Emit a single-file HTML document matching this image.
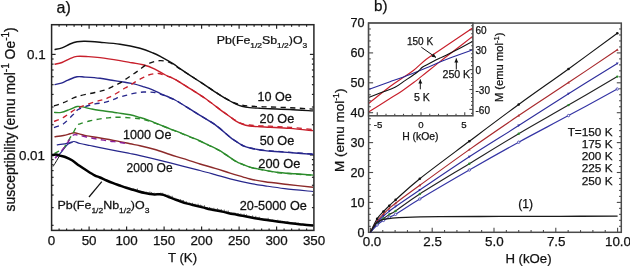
<!DOCTYPE html>
<html><head><meta charset="utf-8"><style>
html,body{margin:0;padding:0;background:#fff;}
svg{display:block;will-change:transform;}
text{font-family:"Liberation Sans", sans-serif;fill:#111;stroke:#111;stroke-width:0.25px;}
</style></head><body>
<svg width="630" height="266" viewBox="0 0 630 266">
<defs>
<clipPath id="clipa"><rect x="51.6" y="24.7" width="262.29999999999995" height="205.70000000000002"/></clipPath>
<clipPath id="clipi"><rect x="368.6" y="23.1" width="104.29999999999995" height="92.69999999999999"/></clipPath>
</defs>
<rect width="630" height="266" fill="#fff"/>
<line x1="59.10" y1="230.40" x2="59.10" y2="228.40" stroke="#262626" stroke-width="1.2"/>
<line x1="59.10" y1="24.70" x2="59.10" y2="26.70" stroke="#262626" stroke-width="1.2"/>
<line x1="66.60" y1="230.40" x2="66.60" y2="228.40" stroke="#262626" stroke-width="1.2"/>
<line x1="66.60" y1="24.70" x2="66.60" y2="26.70" stroke="#262626" stroke-width="1.2"/>
<line x1="74.10" y1="230.40" x2="74.10" y2="228.40" stroke="#262626" stroke-width="1.2"/>
<line x1="74.10" y1="24.70" x2="74.10" y2="26.70" stroke="#262626" stroke-width="1.2"/>
<line x1="81.60" y1="230.40" x2="81.60" y2="228.40" stroke="#262626" stroke-width="1.2"/>
<line x1="81.60" y1="24.70" x2="81.60" y2="26.70" stroke="#262626" stroke-width="1.2"/>
<line x1="89.10" y1="230.40" x2="89.10" y2="226.40" stroke="#262626" stroke-width="1.2"/>
<line x1="89.10" y1="24.70" x2="89.10" y2="28.70" stroke="#262626" stroke-width="1.2"/>
<line x1="96.60" y1="230.40" x2="96.60" y2="228.40" stroke="#262626" stroke-width="1.2"/>
<line x1="96.60" y1="24.70" x2="96.60" y2="26.70" stroke="#262626" stroke-width="1.2"/>
<line x1="104.10" y1="230.40" x2="104.10" y2="228.40" stroke="#262626" stroke-width="1.2"/>
<line x1="104.10" y1="24.70" x2="104.10" y2="26.70" stroke="#262626" stroke-width="1.2"/>
<line x1="111.60" y1="230.40" x2="111.60" y2="228.40" stroke="#262626" stroke-width="1.2"/>
<line x1="111.60" y1="24.70" x2="111.60" y2="26.70" stroke="#262626" stroke-width="1.2"/>
<line x1="119.10" y1="230.40" x2="119.10" y2="228.40" stroke="#262626" stroke-width="1.2"/>
<line x1="119.10" y1="24.70" x2="119.10" y2="26.70" stroke="#262626" stroke-width="1.2"/>
<line x1="126.60" y1="230.40" x2="126.60" y2="226.40" stroke="#262626" stroke-width="1.2"/>
<line x1="126.60" y1="24.70" x2="126.60" y2="28.70" stroke="#262626" stroke-width="1.2"/>
<line x1="134.10" y1="230.40" x2="134.10" y2="228.40" stroke="#262626" stroke-width="1.2"/>
<line x1="134.10" y1="24.70" x2="134.10" y2="26.70" stroke="#262626" stroke-width="1.2"/>
<line x1="141.60" y1="230.40" x2="141.60" y2="228.40" stroke="#262626" stroke-width="1.2"/>
<line x1="141.60" y1="24.70" x2="141.60" y2="26.70" stroke="#262626" stroke-width="1.2"/>
<line x1="149.10" y1="230.40" x2="149.10" y2="228.40" stroke="#262626" stroke-width="1.2"/>
<line x1="149.10" y1="24.70" x2="149.10" y2="26.70" stroke="#262626" stroke-width="1.2"/>
<line x1="156.60" y1="230.40" x2="156.60" y2="228.40" stroke="#262626" stroke-width="1.2"/>
<line x1="156.60" y1="24.70" x2="156.60" y2="26.70" stroke="#262626" stroke-width="1.2"/>
<line x1="164.10" y1="230.40" x2="164.10" y2="226.40" stroke="#262626" stroke-width="1.2"/>
<line x1="164.10" y1="24.70" x2="164.10" y2="28.70" stroke="#262626" stroke-width="1.2"/>
<line x1="171.60" y1="230.40" x2="171.60" y2="228.40" stroke="#262626" stroke-width="1.2"/>
<line x1="171.60" y1="24.70" x2="171.60" y2="26.70" stroke="#262626" stroke-width="1.2"/>
<line x1="179.10" y1="230.40" x2="179.10" y2="228.40" stroke="#262626" stroke-width="1.2"/>
<line x1="179.10" y1="24.70" x2="179.10" y2="26.70" stroke="#262626" stroke-width="1.2"/>
<line x1="186.60" y1="230.40" x2="186.60" y2="228.40" stroke="#262626" stroke-width="1.2"/>
<line x1="186.60" y1="24.70" x2="186.60" y2="26.70" stroke="#262626" stroke-width="1.2"/>
<line x1="194.10" y1="230.40" x2="194.10" y2="228.40" stroke="#262626" stroke-width="1.2"/>
<line x1="194.10" y1="24.70" x2="194.10" y2="26.70" stroke="#262626" stroke-width="1.2"/>
<line x1="201.60" y1="230.40" x2="201.60" y2="226.40" stroke="#262626" stroke-width="1.2"/>
<line x1="201.60" y1="24.70" x2="201.60" y2="28.70" stroke="#262626" stroke-width="1.2"/>
<line x1="209.10" y1="230.40" x2="209.10" y2="228.40" stroke="#262626" stroke-width="1.2"/>
<line x1="209.10" y1="24.70" x2="209.10" y2="26.70" stroke="#262626" stroke-width="1.2"/>
<line x1="216.60" y1="230.40" x2="216.60" y2="228.40" stroke="#262626" stroke-width="1.2"/>
<line x1="216.60" y1="24.70" x2="216.60" y2="26.70" stroke="#262626" stroke-width="1.2"/>
<line x1="224.10" y1="230.40" x2="224.10" y2="228.40" stroke="#262626" stroke-width="1.2"/>
<line x1="224.10" y1="24.70" x2="224.10" y2="26.70" stroke="#262626" stroke-width="1.2"/>
<line x1="231.60" y1="230.40" x2="231.60" y2="228.40" stroke="#262626" stroke-width="1.2"/>
<line x1="231.60" y1="24.70" x2="231.60" y2="26.70" stroke="#262626" stroke-width="1.2"/>
<line x1="239.10" y1="230.40" x2="239.10" y2="226.40" stroke="#262626" stroke-width="1.2"/>
<line x1="239.10" y1="24.70" x2="239.10" y2="28.70" stroke="#262626" stroke-width="1.2"/>
<line x1="246.60" y1="230.40" x2="246.60" y2="228.40" stroke="#262626" stroke-width="1.2"/>
<line x1="246.60" y1="24.70" x2="246.60" y2="26.70" stroke="#262626" stroke-width="1.2"/>
<line x1="254.10" y1="230.40" x2="254.10" y2="228.40" stroke="#262626" stroke-width="1.2"/>
<line x1="254.10" y1="24.70" x2="254.10" y2="26.70" stroke="#262626" stroke-width="1.2"/>
<line x1="261.60" y1="230.40" x2="261.60" y2="228.40" stroke="#262626" stroke-width="1.2"/>
<line x1="261.60" y1="24.70" x2="261.60" y2="26.70" stroke="#262626" stroke-width="1.2"/>
<line x1="269.10" y1="230.40" x2="269.10" y2="228.40" stroke="#262626" stroke-width="1.2"/>
<line x1="269.10" y1="24.70" x2="269.10" y2="26.70" stroke="#262626" stroke-width="1.2"/>
<line x1="276.60" y1="230.40" x2="276.60" y2="226.40" stroke="#262626" stroke-width="1.2"/>
<line x1="276.60" y1="24.70" x2="276.60" y2="28.70" stroke="#262626" stroke-width="1.2"/>
<line x1="284.10" y1="230.40" x2="284.10" y2="228.40" stroke="#262626" stroke-width="1.2"/>
<line x1="284.10" y1="24.70" x2="284.10" y2="26.70" stroke="#262626" stroke-width="1.2"/>
<line x1="291.60" y1="230.40" x2="291.60" y2="228.40" stroke="#262626" stroke-width="1.2"/>
<line x1="291.60" y1="24.70" x2="291.60" y2="26.70" stroke="#262626" stroke-width="1.2"/>
<line x1="299.10" y1="230.40" x2="299.10" y2="228.40" stroke="#262626" stroke-width="1.2"/>
<line x1="299.10" y1="24.70" x2="299.10" y2="26.70" stroke="#262626" stroke-width="1.2"/>
<line x1="306.60" y1="230.40" x2="306.60" y2="228.40" stroke="#262626" stroke-width="1.2"/>
<line x1="306.60" y1="24.70" x2="306.60" y2="26.70" stroke="#262626" stroke-width="1.2"/>
<line x1="51.60" y1="225.32" x2="53.60" y2="225.32" stroke="#262626" stroke-width="1.2"/>
<line x1="313.90" y1="225.32" x2="311.90" y2="225.32" stroke="#262626" stroke-width="1.2"/>
<line x1="51.60" y1="207.60" x2="53.60" y2="207.60" stroke="#262626" stroke-width="1.2"/>
<line x1="313.90" y1="207.60" x2="311.90" y2="207.60" stroke="#262626" stroke-width="1.2"/>
<line x1="51.60" y1="195.03" x2="53.60" y2="195.03" stroke="#262626" stroke-width="1.2"/>
<line x1="313.90" y1="195.03" x2="311.90" y2="195.03" stroke="#262626" stroke-width="1.2"/>
<line x1="51.60" y1="185.28" x2="53.60" y2="185.28" stroke="#262626" stroke-width="1.2"/>
<line x1="313.90" y1="185.28" x2="311.90" y2="185.28" stroke="#262626" stroke-width="1.2"/>
<line x1="51.60" y1="177.32" x2="53.60" y2="177.32" stroke="#262626" stroke-width="1.2"/>
<line x1="313.90" y1="177.32" x2="311.90" y2="177.32" stroke="#262626" stroke-width="1.2"/>
<line x1="51.60" y1="170.58" x2="53.60" y2="170.58" stroke="#262626" stroke-width="1.2"/>
<line x1="313.90" y1="170.58" x2="311.90" y2="170.58" stroke="#262626" stroke-width="1.2"/>
<line x1="51.60" y1="164.75" x2="53.60" y2="164.75" stroke="#262626" stroke-width="1.2"/>
<line x1="313.90" y1="164.75" x2="311.90" y2="164.75" stroke="#262626" stroke-width="1.2"/>
<line x1="51.60" y1="159.60" x2="53.60" y2="159.60" stroke="#262626" stroke-width="1.2"/>
<line x1="313.90" y1="159.60" x2="311.90" y2="159.60" stroke="#262626" stroke-width="1.2"/>
<line x1="51.60" y1="155.00" x2="55.60" y2="155.00" stroke="#262626" stroke-width="1.2"/>
<line x1="313.90" y1="155.00" x2="309.90" y2="155.00" stroke="#262626" stroke-width="1.2"/>
<line x1="51.60" y1="124.72" x2="53.60" y2="124.72" stroke="#262626" stroke-width="1.2"/>
<line x1="313.90" y1="124.72" x2="311.90" y2="124.72" stroke="#262626" stroke-width="1.2"/>
<line x1="51.60" y1="107.00" x2="53.60" y2="107.00" stroke="#262626" stroke-width="1.2"/>
<line x1="313.90" y1="107.00" x2="311.90" y2="107.00" stroke="#262626" stroke-width="1.2"/>
<line x1="51.60" y1="94.43" x2="53.60" y2="94.43" stroke="#262626" stroke-width="1.2"/>
<line x1="313.90" y1="94.43" x2="311.90" y2="94.43" stroke="#262626" stroke-width="1.2"/>
<line x1="51.60" y1="84.68" x2="53.60" y2="84.68" stroke="#262626" stroke-width="1.2"/>
<line x1="313.90" y1="84.68" x2="311.90" y2="84.68" stroke="#262626" stroke-width="1.2"/>
<line x1="51.60" y1="76.72" x2="53.60" y2="76.72" stroke="#262626" stroke-width="1.2"/>
<line x1="313.90" y1="76.72" x2="311.90" y2="76.72" stroke="#262626" stroke-width="1.2"/>
<line x1="51.60" y1="69.98" x2="53.60" y2="69.98" stroke="#262626" stroke-width="1.2"/>
<line x1="313.90" y1="69.98" x2="311.90" y2="69.98" stroke="#262626" stroke-width="1.2"/>
<line x1="51.60" y1="64.15" x2="53.60" y2="64.15" stroke="#262626" stroke-width="1.2"/>
<line x1="313.90" y1="64.15" x2="311.90" y2="64.15" stroke="#262626" stroke-width="1.2"/>
<line x1="51.60" y1="59.00" x2="53.60" y2="59.00" stroke="#262626" stroke-width="1.2"/>
<line x1="313.90" y1="59.00" x2="311.90" y2="59.00" stroke="#262626" stroke-width="1.2"/>
<line x1="51.60" y1="54.40" x2="55.60" y2="54.40" stroke="#262626" stroke-width="1.2"/>
<line x1="313.90" y1="54.40" x2="309.90" y2="54.40" stroke="#262626" stroke-width="1.2"/>
<rect x="51.6" y="24.7" width="262.29999999999995" height="205.70000000000002" fill="none" stroke="#262626" stroke-width="1.5"/>
<text x="51.6" y="245.3" font-size="13.4" text-anchor="middle">0</text>
<text x="89.1" y="245.3" font-size="13.4" text-anchor="middle">50</text>
<text x="126.6" y="245.3" font-size="13.4" text-anchor="middle">100</text>
<text x="164.1" y="245.3" font-size="13.4" text-anchor="middle">150</text>
<text x="201.6" y="245.3" font-size="13.4" text-anchor="middle">200</text>
<text x="239.1" y="245.3" font-size="13.4" text-anchor="middle">250</text>
<text x="276.6" y="245.3" font-size="13.4" text-anchor="middle">300</text>
<text x="314.1" y="245.3" font-size="13.4" text-anchor="middle">350</text>
<text x="45.6" y="59.2" font-size="13.4" text-anchor="end">0.1</text>
<text x="45.0" y="160.0" font-size="13.4" text-anchor="end">0.01</text>
<text x="182.5" y="261.6" font-size="13.2" text-anchor="middle">T (K)</text>
<text transform="translate(14.8,211.4) scale(1.08,1) rotate(-90)" font-size="13.9">susceptibility</text>
<text transform="translate(14.8,130.0) scale(1.08,1) rotate(-90)" font-size="13.9">(emu mol<tspan dy="-5.0" font-size="10">-1</tspan><tspan dy="5.0"> Oe</tspan><tspan dy="-5.0" font-size="10">-1</tspan><tspan dy="5.0">)</tspan></text>
<text x="56.5" y="12.6" font-size="16" text-anchor="start">a)</text>
<g clip-path="url(#clipa)">
<path d="M54.50,49.60 C55.75,49.30 59.42,48.73 62.00,47.80 C64.58,46.87 67.50,45.00 70.00,44.00 C72.50,43.00 74.50,42.25 77.00,41.80 C79.50,41.35 81.17,41.22 85.00,41.30 C88.83,41.38 94.17,41.82 100.00,42.30 C105.83,42.78 113.33,43.20 120.00,44.20 C126.67,45.20 134.48,46.83 140.00,48.30 C145.52,49.77 149.43,51.48 153.10,53.00 C156.77,54.52 158.68,55.62 162.00,57.40 C165.32,59.18 170.00,61.83 173.00,63.70 C176.00,65.57 177.17,66.67 180.00,68.60 C182.83,70.53 185.83,72.55 190.00,75.30 C194.17,78.05 200.00,81.80 205.00,85.10 C210.00,88.40 215.83,92.45 220.00,95.10 C224.17,97.75 227.33,99.52 230.00,101.00 C232.67,102.48 234.00,103.12 236.00,104.00 C238.00,104.88 239.75,105.70 242.00,106.30 C244.25,106.90 246.50,107.27 249.50,107.60 C252.50,107.93 256.58,108.10 260.00,108.30 C263.42,108.50 265.00,108.60 270.00,108.80 C275.00,109.00 282.83,109.15 290.00,109.50 C297.17,109.85 309.17,110.67 313.00,110.90" fill="none" stroke="#111111" stroke-width="1.4" stroke-linejoin="round"/>
<path d="M54.50,64.30 C55.75,64.00 59.42,63.45 62.00,62.50 C64.58,61.55 67.50,59.62 70.00,58.60 C72.50,57.58 74.00,56.73 77.00,56.40 C80.00,56.07 84.17,56.40 88.00,56.60 C91.83,56.80 94.67,56.93 100.00,57.60 C105.33,58.27 114.67,59.73 120.00,60.60 C125.33,61.47 128.17,62.10 132.00,62.80 C135.83,63.50 139.28,63.80 143.00,64.80 C146.72,65.80 150.55,67.10 154.30,68.80 C158.05,70.50 162.38,73.40 165.50,75.00 C168.62,76.60 170.58,77.18 173.00,78.40 C175.42,79.62 177.17,80.58 180.00,82.30 C182.83,84.02 185.83,86.03 190.00,88.70 C194.17,91.37 200.00,94.82 205.00,98.30 C210.00,101.78 215.83,106.52 220.00,109.60 C224.17,112.68 227.33,114.88 230.00,116.80 C232.67,118.72 234.00,119.88 236.00,121.10 C238.00,122.32 239.75,123.28 242.00,124.10 C244.25,124.92 246.50,125.55 249.50,126.00 C252.50,126.45 256.58,126.58 260.00,126.80 C263.42,127.02 265.00,127.03 270.00,127.30 C275.00,127.57 282.83,127.85 290.00,128.40 C297.17,128.95 309.17,130.23 313.00,130.60" fill="none" stroke="#c8202c" stroke-width="1.4" stroke-linejoin="round"/>
<path d="M54.50,84.60 C55.63,84.35 59.05,83.85 61.30,83.10 C63.55,82.35 65.38,81.15 68.00,80.10 C70.62,79.05 74.17,77.30 77.00,76.80 C79.83,76.30 81.17,76.85 85.00,77.10 C88.83,77.35 95.50,77.77 100.00,78.30 C104.50,78.83 107.83,79.63 112.00,80.30 C116.17,80.97 121.33,81.70 125.00,82.30 C128.67,82.90 131.00,83.18 134.00,83.90 C137.00,84.62 139.98,85.63 143.00,86.60 C146.02,87.57 149.27,88.58 152.10,89.70 C154.93,90.82 157.43,92.17 160.00,93.30 C162.57,94.43 165.00,95.38 167.50,96.50 C170.00,97.62 172.48,98.67 175.00,100.00 C177.52,101.33 180.10,102.98 182.60,104.50 C185.10,106.02 187.10,107.28 190.00,109.10 C192.90,110.92 195.83,112.82 200.00,115.40 C204.17,117.98 210.00,120.98 215.00,124.60 C220.00,128.22 226.67,134.42 230.00,137.10 C233.33,139.78 233.33,139.55 235.00,140.70 C236.67,141.85 238.50,143.10 240.00,144.00 C241.50,144.90 242.33,145.43 244.00,146.10 C245.67,146.77 247.73,147.43 250.00,148.00 C252.27,148.57 255.10,149.07 257.60,149.50 C260.10,149.93 262.10,150.27 265.00,150.60 C267.90,150.93 270.00,151.10 275.00,151.50 C280.00,151.90 288.58,152.52 295.00,153.00 C301.42,153.48 310.42,154.17 313.50,154.40" fill="none" stroke="#27278c" stroke-width="1.4" stroke-linejoin="round"/>
<path d="M54.00,112.40 C55.22,112.40 58.63,112.92 61.30,112.40 C63.97,111.88 67.37,110.28 70.00,109.30 C72.63,108.32 75.05,106.90 77.10,106.50 C79.15,106.10 80.15,106.55 82.30,106.90 C84.45,107.25 87.25,108.03 90.00,108.60 C92.75,109.17 94.20,109.58 98.80,110.30 C103.40,111.02 112.40,112.15 117.60,112.90 C122.80,113.65 126.27,114.03 130.00,114.80 C133.73,115.57 137.08,116.67 140.00,117.50 C142.92,118.33 145.00,118.92 147.50,119.80 C150.00,120.68 152.48,121.80 155.00,122.80 C157.52,123.80 160.10,124.80 162.60,125.80 C165.10,126.80 167.10,127.67 170.00,128.80 C172.90,129.93 176.67,131.27 180.00,132.60 C183.33,133.93 186.67,135.40 190.00,136.80 C193.33,138.20 196.83,139.58 200.00,141.00 C203.17,142.42 206.00,143.87 209.00,145.30 C212.00,146.73 215.23,148.08 218.00,149.60 C220.77,151.12 223.43,152.97 225.60,154.40 C227.77,155.83 228.98,156.87 231.00,158.20 C233.02,159.53 236.03,161.50 237.70,162.40 C239.37,163.30 239.45,162.98 241.00,163.60 C242.55,164.22 244.75,165.32 247.00,166.10 C249.25,166.88 252.23,167.75 254.50,168.30 C256.77,168.85 256.95,168.75 260.60,169.40 C264.25,170.05 270.67,171.47 276.40,172.20 C282.13,172.93 288.82,173.32 295.00,173.80 C301.18,174.28 310.42,174.88 313.50,175.10" fill="none" stroke="#2c8c2c" stroke-width="1.4" stroke-linejoin="round"/>
<path d="M54.50,136.70 C56.00,136.50 60.92,135.98 63.50,135.50 C66.08,135.02 68.23,134.25 70.00,133.80 C71.77,133.35 72.43,132.75 74.10,132.80 C75.77,132.85 77.85,133.58 80.00,134.10 C82.15,134.62 83.87,135.30 87.00,135.90 C90.13,136.50 93.70,136.83 98.80,137.70 C103.90,138.57 112.40,140.08 117.60,141.10 C122.80,142.12 126.27,143.03 130.00,143.80 C133.73,144.57 135.83,144.75 140.00,145.70 C144.17,146.65 150.00,148.03 155.00,149.50 C160.00,150.97 165.40,153.02 170.00,154.50 C174.60,155.98 177.60,156.82 182.60,158.40 C187.60,159.98 194.58,162.35 200.00,164.00 C205.42,165.65 210.08,166.78 215.10,168.30 C220.12,169.82 225.52,171.68 230.10,173.10 C234.68,174.52 239.28,175.82 242.60,176.80 C245.92,177.78 246.27,178.17 250.00,179.00 C253.73,179.83 258.72,180.88 265.00,181.80 C271.28,182.72 279.70,183.58 287.70,184.50 C295.70,185.42 308.78,186.83 313.00,187.30" fill="none" stroke="#8c2a2a" stroke-width="1.4" stroke-linejoin="round"/>
<path d="M56.80,144.80 C58.17,144.63 62.80,144.17 65.00,143.80 C67.20,143.43 68.50,142.98 70.00,142.60 C71.50,142.22 72.33,141.35 74.00,141.50 C75.67,141.65 77.33,142.83 80.00,143.50 C82.67,144.17 86.87,144.87 90.00,145.50 C93.13,146.13 94.20,146.37 98.80,147.30 C103.40,148.23 112.40,150.07 117.60,151.10 C122.80,152.13 126.27,152.75 130.00,153.50 C133.73,154.25 135.00,154.47 140.00,155.60 C145.00,156.73 152.90,158.55 160.00,160.30 C167.10,162.05 175.93,164.40 182.60,166.10 C189.27,167.80 194.58,169.08 200.00,170.50 C205.42,171.92 210.08,173.22 215.10,174.60 C220.12,175.98 224.28,177.35 230.10,178.80 C235.92,180.25 244.18,182.13 250.00,183.30 C255.82,184.47 259.22,184.92 265.00,185.80 C270.78,186.68 276.70,187.65 284.70,188.60 C292.70,189.55 308.28,191.02 313.00,191.50" fill="none" stroke="#27278c" stroke-width="1.2" stroke-linejoin="round"/>
<path d="M55.10,157.70 C55.58,157.33 56.85,156.57 58.00,155.50 C59.15,154.43 60.58,152.97 62.00,151.30 C63.42,149.63 65.28,146.82 66.50,145.50 C67.72,144.18 68.28,143.93 69.30,143.40 C70.32,142.87 72.05,142.48 72.60,142.30" fill="none" stroke="#27278c" stroke-width="1.2" stroke-linejoin="round"/>
<path d="M54.00,106.00 C55.58,105.45 59.67,104.27 63.50,102.70 C67.33,101.13 71.75,98.30 77.00,96.60 C82.25,94.90 90.38,93.58 95.00,92.50 C99.62,91.42 102.30,90.82 104.70,90.10 C107.10,89.38 107.75,88.97 109.40,88.20 C111.05,87.43 112.88,86.33 114.60,85.50 C116.32,84.67 118.02,84.13 119.70,83.20 C121.38,82.27 123.08,80.98 124.70,79.90 C126.32,78.82 127.75,77.82 129.40,76.70 C131.05,75.58 132.88,74.38 134.60,73.20 C136.32,72.02 137.83,71.00 139.70,69.60 C141.57,68.20 144.22,65.83 145.80,64.80 C147.38,63.77 147.78,63.95 149.20,63.40 C150.62,62.85 152.52,61.95 154.30,61.50 C156.08,61.05 158.12,60.77 159.90,60.70 C161.68,60.63 163.32,60.78 165.00,61.10 C166.68,61.42 168.33,61.85 170.00,62.60 C171.67,63.35 173.33,64.55 175.00,65.60 C176.67,66.65 177.50,67.28 180.00,68.90 C182.50,70.52 185.83,72.60 190.00,75.30 C194.17,78.00 200.00,81.82 205.00,85.10 C210.00,88.38 215.83,92.38 220.00,95.00 C224.17,97.62 227.33,99.38 230.00,100.80 C232.67,102.22 234.00,102.78 236.00,103.50 C238.00,104.22 239.75,104.67 242.00,105.10 C244.25,105.53 246.50,105.83 249.50,106.10 C252.50,106.37 256.58,106.55 260.00,106.70 C263.42,106.85 265.00,106.83 270.00,107.00 C275.00,107.17 282.83,107.35 290.00,107.70 C297.17,108.05 309.17,108.87 313.00,109.10" fill="none" stroke="#111111" stroke-width="1.35" stroke-dasharray="5.2,4.4" stroke-linejoin="round"/>
<path d="M54.00,121.40 C55.58,120.73 59.65,119.57 63.50,117.40 C67.35,115.23 71.83,111.00 77.10,108.40 C82.37,105.80 90.58,103.30 95.10,101.80 C99.62,100.30 101.82,100.18 104.20,99.40 C106.58,98.62 107.75,97.88 109.40,97.10 C111.05,96.32 112.38,95.65 114.10,94.70 C115.82,93.75 117.88,92.52 119.70,91.40 C121.52,90.28 123.37,88.95 125.00,88.00 C126.63,87.05 127.98,86.60 129.50,85.70 C131.02,84.80 132.40,83.67 134.10,82.60 C135.80,81.53 138.03,80.20 139.70,79.30 C141.37,78.40 142.62,77.92 144.10,77.20 C145.58,76.48 147.00,75.55 148.60,75.00 C150.20,74.45 152.00,74.15 153.70,73.90 C155.40,73.65 157.02,73.27 158.80,73.50 C160.58,73.73 162.53,74.70 164.40,75.30 C166.27,75.90 168.23,76.40 170.00,77.10 C171.77,77.80 173.33,78.63 175.00,79.50 C176.67,80.37 177.50,80.78 180.00,82.30 C182.50,83.82 185.83,85.93 190.00,88.60 C194.17,91.27 200.00,94.83 205.00,98.30 C210.00,101.77 215.83,106.35 220.00,109.40 C224.17,112.45 227.33,114.72 230.00,116.60 C232.67,118.48 234.00,119.53 236.00,120.70 C238.00,121.87 239.75,122.88 242.00,123.60 C244.25,124.32 246.50,124.63 249.50,125.00 C252.50,125.37 256.58,125.60 260.00,125.80 C263.42,126.00 265.00,125.95 270.00,126.20 C275.00,126.45 282.83,126.75 290.00,127.30 C297.17,127.85 309.17,129.13 313.00,129.50" fill="none" stroke="#c8202c" stroke-width="1.35" stroke-dasharray="5.2,4.4" stroke-linejoin="round"/>
<path d="M54.00,127.60 C55.58,126.95 60.40,125.78 63.50,123.70 C66.60,121.62 70.15,117.47 72.60,115.10 C75.05,112.73 75.80,111.02 78.20,109.50 C80.60,107.98 84.18,106.93 87.00,106.00 C89.82,105.07 92.15,104.50 95.10,103.90 C98.05,103.30 101.68,103.12 104.70,102.40 C107.72,101.68 110.93,100.40 113.20,99.60 C115.47,98.80 116.33,98.27 118.30,97.60 C120.27,96.93 123.28,96.08 125.00,95.60 C126.72,95.12 127.17,95.07 128.60,94.70 C130.03,94.33 131.95,93.77 133.60,93.40 C135.25,93.03 136.85,92.73 138.50,92.50 C140.15,92.27 141.83,92.08 143.50,92.00 C145.17,91.92 146.83,91.95 148.50,92.00 C150.17,92.05 151.85,92.08 153.50,92.30 C155.15,92.52 156.48,92.72 158.40,93.30 C160.32,93.88 162.23,94.68 165.00,95.80 C167.77,96.92 172.07,98.55 175.00,100.00 C177.93,101.45 180.10,102.98 182.60,104.50 C185.10,106.02 187.10,107.28 190.00,109.10 C192.90,110.92 195.83,112.82 200.00,115.40 C204.17,117.98 210.00,120.98 215.00,124.60 C220.00,128.22 226.67,134.42 230.00,137.10 C233.33,139.78 233.33,139.55 235.00,140.70 C236.67,141.85 238.50,143.10 240.00,144.00 C241.50,144.90 242.33,145.43 244.00,146.10 C245.67,146.77 247.73,147.43 250.00,148.00 C252.27,148.57 255.10,149.10 257.60,149.50 C260.10,149.90 262.10,150.12 265.00,150.40 C267.90,150.68 270.00,150.82 275.00,151.20 C280.00,151.58 288.58,152.22 295.00,152.70 C301.42,153.18 310.42,153.87 313.50,154.10" fill="none" stroke="#27278c" stroke-width="1.35" stroke-dasharray="5.2,4.4" stroke-linejoin="round"/>
<path d="M54.50,153.50 C54.75,153.33 55.07,152.98 56.00,152.50 C56.93,152.02 58.77,151.35 60.10,150.60 C61.43,149.85 62.93,149.18 64.00,148.00 C65.07,146.82 65.07,145.83 66.50,143.50 C67.93,141.17 70.85,136.95 72.60,134.00 C74.35,131.05 75.77,127.50 77.00,125.80 C78.23,124.10 77.93,124.60 80.00,123.80 C82.07,123.00 86.27,121.78 89.40,121.00 C92.53,120.22 95.67,119.63 98.80,119.10 C101.93,118.57 105.07,118.12 108.20,117.80 C111.33,117.48 113.97,117.20 117.60,117.20 C121.23,117.20 126.27,117.52 130.00,117.80 C133.73,118.08 137.08,118.43 140.00,118.90 C142.92,119.37 145.00,119.90 147.50,120.60 C150.00,121.30 152.48,122.20 155.00,123.10 C157.52,124.00 160.10,125.02 162.60,126.00 C165.10,126.98 167.10,127.87 170.00,129.00 C172.90,130.13 176.67,131.47 180.00,132.80 C183.33,134.13 186.67,135.60 190.00,137.00 C193.33,138.40 196.83,139.78 200.00,141.20 C203.17,142.62 206.00,144.07 209.00,145.50 C212.00,146.93 215.23,148.28 218.00,149.80 C220.77,151.32 223.43,153.17 225.60,154.60 C227.77,156.03 228.98,157.07 231.00,158.40 C233.02,159.73 236.03,161.70 237.70,162.60 C239.37,163.50 239.45,163.18 241.00,163.80 C242.55,164.42 244.75,165.52 247.00,166.30 C249.25,167.08 252.23,167.95 254.50,168.50 C256.77,169.05 256.95,168.95 260.60,169.60 C264.25,170.25 270.67,171.67 276.40,172.40 C282.13,173.13 288.82,173.52 295.00,174.00 C301.18,174.48 310.42,175.08 313.50,175.30" fill="none" stroke="#2c8c2c" stroke-width="1.35" stroke-dasharray="5.2,4.4" stroke-linejoin="round"/>
<path d="M55.10,158.20 C55.92,157.25 58.35,154.45 60.00,152.50 C61.65,150.55 63.50,148.50 65.00,146.50 C66.50,144.50 67.73,142.32 69.00,140.50 C70.27,138.68 71.60,136.58 72.60,135.60 C73.60,134.62 73.77,134.60 75.00,134.60 C76.23,134.60 77.28,135.03 80.00,135.60 C82.72,136.17 87.85,137.32 91.30,138.00 C94.75,138.68 97.58,139.17 100.70,139.70 C103.82,140.23 107.18,140.80 110.00,141.20 C112.82,141.60 115.10,141.75 117.60,142.10 C120.10,142.45 123.77,143.10 125.00,143.30" fill="none" stroke="#8a1f9a" stroke-width="1.35" stroke-dasharray="5.2,4.4" stroke-linejoin="round"/>
<path d="M53.00,166.50 C53.35,165.97 54.25,164.68 55.10,163.30 C55.95,161.92 57.35,159.42 58.10,158.20 C58.85,156.98 59.35,156.37 59.60,156.00" fill="none" stroke="#111111" stroke-width="1.0" stroke-linejoin="round"/>
<path d="M52.00,155.10 C52.68,155.02 54.75,154.52 56.10,154.60 C57.45,154.68 58.58,155.20 60.10,155.60 C61.62,156.00 63.22,156.22 65.20,157.00 C67.18,157.78 69.62,158.83 72.00,160.30 C74.38,161.77 76.98,164.05 79.50,165.80 C82.02,167.55 84.58,169.22 87.10,170.80 C89.62,172.38 92.45,174.18 94.60,175.30 C96.75,176.42 98.00,176.63 100.00,177.50 C102.00,178.37 104.40,179.55 106.60,180.50 C108.80,181.45 111.02,182.37 113.20,183.20 C115.38,184.03 117.52,184.73 119.70,185.50 C121.88,186.27 124.10,187.10 126.30,187.80 C128.50,188.50 130.70,189.05 132.90,189.70 C135.10,190.35 137.48,191.15 139.50,191.70 C141.52,192.25 143.25,192.63 145.00,193.00 C146.75,193.37 148.42,193.67 150.00,193.90 C151.58,194.13 152.87,194.35 154.50,194.40 C156.13,194.45 158.30,194.12 159.80,194.20 C161.30,194.28 162.00,194.43 163.50,194.90 C165.00,195.37 166.92,196.27 168.80,197.00 C170.68,197.73 172.93,198.60 174.80,199.30 C176.67,200.00 177.88,200.48 180.00,201.20 C182.12,201.92 185.00,202.88 187.50,203.60 C190.00,204.32 192.48,204.87 195.00,205.50 C197.52,206.13 200.10,206.77 202.60,207.40 C205.10,208.03 208.10,208.85 210.00,209.30 C211.90,209.75 211.73,209.67 214.00,210.10 C216.27,210.53 220.42,211.23 223.60,211.90 C226.78,212.57 229.93,213.47 233.10,214.10 C236.27,214.73 238.95,215.02 242.60,215.70 C246.25,216.38 251.35,217.52 255.00,218.20 C258.65,218.88 261.33,219.33 264.50,219.80 C267.67,220.27 270.82,220.58 274.00,221.00 C277.18,221.42 280.42,221.87 283.60,222.30 C286.78,222.73 289.93,223.23 293.10,223.60 C296.27,223.97 299.27,224.18 302.60,224.50 C305.93,224.82 311.35,225.33 313.10,225.50" fill="none" stroke="#000" stroke-width="2.5" stroke-linejoin="round"/>
<path d="M121.9,185.8v-0.4 M124.6,186.7v-0.4 M127.1,187.5v-0.6 M128.4,187.9v-0.7 M129.7,188.3v-0.6 M131.1,188.7v-0.4 M133.2,189.3v-0.9 M134.7,189.8v-0.5 M137.4,190.6v-2.1 M139.9,191.3v-1.2 M143.3,192.1v-0.7 M146.5,192.8v-1.1 M148.0,193.0v-0.8 M149.9,193.4v-1.9 M151.6,193.6v-1.5 M154.2,193.9v-1.2 M156.7,193.8v-0.7 M158.0,193.8v-0.9 M160.8,193.9v-1.3 M162.7,194.3v-1.5 M165.0,195.0v-1.1 M168.0,196.2v-1.7 M169.7,196.9v-1.5 M172.2,197.8v-2.0 M175.0,198.9v-1.1 M178.5,200.1v-0.8 M180.6,200.9v-1.8 M182.2,201.4v-1.4 M183.5,201.8v-1.7 M186.4,202.8v-1.5 M189.7,203.6v-1.1 M192.5,204.4v-1.6 M195.0,205.0v-1.3 M198.1,205.8v-2.1 M200.4,206.4v-1.7 M201.8,206.7v-1.7 M204.4,207.4v-2.2 M207.5,208.2v-1.1 M209.6,208.7v-1.7 M210.9,209.0v-1.3 M212.5,209.3v-0.8 M213.8,209.6v-1.8 M215.3,209.8v-1.0 M217.4,210.2v-2.0 M218.8,210.5v-1.3 M221.2,211.0v-2.0 M224.3,211.6v-2.0 M226.2,212.0v-1.3 M228.2,212.5v-2.0 M231.6,213.3v-0.8 M233.2,213.6v-1.0 M234.9,213.9v-1.4 M237.5,214.3v-1.0 M238.7,214.5v-1.3 M240.8,214.9v-1.5 M244.1,215.5v-1.7 M246.5,216.0v-1.6 M249.3,216.5v-0.7 M252.6,217.2v-1.8 M255.8,217.8v-1.9 M257.9,218.2v-1.2 M259.3,218.4v-1.6 M260.6,218.7v-0.7 M262.3,218.9v-0.9 M264.3,219.3v-0.7 M265.5,219.4v-0.8 M266.9,219.6v-1.2 M268.2,219.8v-2.0 M270.8,220.1v-0.5 M272.6,220.3v-0.7 M274.6,220.6v-0.5 M277.8,221.0v-1.3 M280.1,221.3v-0.8 M281.5,221.5v-0.5 M283.4,221.8v-0.6 M286.5,222.2v-0.5 M287.8,222.4v-1.3 M290.2,222.7v-0.5 M292.7,223.0v-0.4 M295.1,223.3v-1.3 M298.3,223.6v-1.0 M300.1,223.8v-0.7" stroke="#222" stroke-width="0.7" fill="none"/>
</g>
<line x1="89.00" y1="197.00" x2="101.80" y2="181.60" stroke="#111" stroke-width="1.2"/>
<text transform="translate(216.7,43.6) scale(1.065,1)" font-size="11.6">Pb(Fe<tspan dy="4.1" font-size="7.9">1/2</tspan><tspan dy="-4.1">Sb</tspan><tspan dy="4.1" font-size="7.9">1/2</tspan><tspan dy="-4.1">)O</tspan><tspan dy="4.1" font-size="7.9">3</tspan></text>
<text transform="translate(57.5,209.1) scale(1.074,1)" font-size="11.6">Pb(Fe<tspan dy="4.1" font-size="7.9">1/2</tspan><tspan dy="-4.1">Nb</tspan><tspan dy="4.1" font-size="7.9">1/2</tspan><tspan dy="-4.1">)O</tspan><tspan dy="4.1" font-size="7.9">3</tspan></text>
<text transform="translate(291.7,100.8) scale(1.05,1)" font-size="12" text-anchor="end">10 Oe</text>
<text transform="translate(294.2,122.5) scale(1.06,1)" font-size="12" text-anchor="end">20 Oe</text>
<text transform="translate(294.3,144.8) scale(1.06,1)" font-size="12" text-anchor="end">50 Oe</text>
<text transform="translate(300.4,168.0) scale(1.07,1)" font-size="12" text-anchor="end">200 Oe</text>
<text transform="translate(306.9,210.4) scale(1.06,1)" font-size="12" text-anchor="end">20-5000 Oe</text>
<text transform="translate(123.1,139.3) scale(1.05,1)" font-size="12" text-anchor="start">1000 Oe</text>
<text x="126.6" y="171.6" font-size="12" text-anchor="start">2000 Oe</text>
<line x1="370.40" y1="232.30" x2="370.40" y2="227.80" stroke="#4a4a4a" stroke-width="1.1"/>
<line x1="382.76" y1="232.30" x2="382.76" y2="230.10" stroke="#4a4a4a" stroke-width="1.1"/>
<line x1="395.12" y1="232.30" x2="395.12" y2="230.10" stroke="#4a4a4a" stroke-width="1.1"/>
<line x1="407.48" y1="232.30" x2="407.48" y2="230.10" stroke="#4a4a4a" stroke-width="1.1"/>
<line x1="419.84" y1="232.30" x2="419.84" y2="230.10" stroke="#4a4a4a" stroke-width="1.1"/>
<line x1="432.20" y1="232.30" x2="432.20" y2="227.80" stroke="#4a4a4a" stroke-width="1.1"/>
<line x1="444.56" y1="232.30" x2="444.56" y2="230.10" stroke="#4a4a4a" stroke-width="1.1"/>
<line x1="456.92" y1="232.30" x2="456.92" y2="230.10" stroke="#4a4a4a" stroke-width="1.1"/>
<line x1="469.28" y1="232.30" x2="469.28" y2="230.10" stroke="#4a4a4a" stroke-width="1.1"/>
<line x1="481.64" y1="232.30" x2="481.64" y2="230.10" stroke="#4a4a4a" stroke-width="1.1"/>
<line x1="494.00" y1="232.30" x2="494.00" y2="227.80" stroke="#4a4a4a" stroke-width="1.1"/>
<line x1="506.36" y1="232.30" x2="506.36" y2="230.10" stroke="#4a4a4a" stroke-width="1.1"/>
<line x1="518.72" y1="232.30" x2="518.72" y2="230.10" stroke="#4a4a4a" stroke-width="1.1"/>
<line x1="531.08" y1="232.30" x2="531.08" y2="230.10" stroke="#4a4a4a" stroke-width="1.1"/>
<line x1="543.44" y1="232.30" x2="543.44" y2="230.10" stroke="#4a4a4a" stroke-width="1.1"/>
<line x1="555.80" y1="232.30" x2="555.80" y2="227.80" stroke="#4a4a4a" stroke-width="1.1"/>
<line x1="568.16" y1="232.30" x2="568.16" y2="230.10" stroke="#4a4a4a" stroke-width="1.1"/>
<line x1="580.52" y1="232.30" x2="580.52" y2="230.10" stroke="#4a4a4a" stroke-width="1.1"/>
<line x1="592.88" y1="232.30" x2="592.88" y2="230.10" stroke="#4a4a4a" stroke-width="1.1"/>
<line x1="605.24" y1="232.30" x2="605.24" y2="230.10" stroke="#4a4a4a" stroke-width="1.1"/>
<line x1="617.60" y1="232.30" x2="617.60" y2="227.80" stroke="#4a4a4a" stroke-width="1.1"/>
<line x1="368.60" y1="226.32" x2="370.80" y2="226.32" stroke="#4a4a4a" stroke-width="1.1"/>
<line x1="621.30" y1="226.32" x2="619.10" y2="226.32" stroke="#4a4a4a" stroke-width="1.1"/>
<line x1="368.60" y1="220.34" x2="370.80" y2="220.34" stroke="#4a4a4a" stroke-width="1.1"/>
<line x1="621.30" y1="220.34" x2="619.10" y2="220.34" stroke="#4a4a4a" stroke-width="1.1"/>
<line x1="368.60" y1="214.36" x2="370.80" y2="214.36" stroke="#4a4a4a" stroke-width="1.1"/>
<line x1="621.30" y1="214.36" x2="619.10" y2="214.36" stroke="#4a4a4a" stroke-width="1.1"/>
<line x1="368.60" y1="208.38" x2="370.80" y2="208.38" stroke="#4a4a4a" stroke-width="1.1"/>
<line x1="621.30" y1="208.38" x2="619.10" y2="208.38" stroke="#4a4a4a" stroke-width="1.1"/>
<line x1="368.60" y1="202.40" x2="373.10" y2="202.40" stroke="#4a4a4a" stroke-width="1.1"/>
<line x1="621.30" y1="202.40" x2="616.80" y2="202.40" stroke="#4a4a4a" stroke-width="1.1"/>
<line x1="368.60" y1="196.42" x2="370.80" y2="196.42" stroke="#4a4a4a" stroke-width="1.1"/>
<line x1="621.30" y1="196.42" x2="619.10" y2="196.42" stroke="#4a4a4a" stroke-width="1.1"/>
<line x1="368.60" y1="190.44" x2="370.80" y2="190.44" stroke="#4a4a4a" stroke-width="1.1"/>
<line x1="621.30" y1="190.44" x2="619.10" y2="190.44" stroke="#4a4a4a" stroke-width="1.1"/>
<line x1="368.60" y1="184.46" x2="370.80" y2="184.46" stroke="#4a4a4a" stroke-width="1.1"/>
<line x1="621.30" y1="184.46" x2="619.10" y2="184.46" stroke="#4a4a4a" stroke-width="1.1"/>
<line x1="368.60" y1="178.48" x2="370.80" y2="178.48" stroke="#4a4a4a" stroke-width="1.1"/>
<line x1="621.30" y1="178.48" x2="619.10" y2="178.48" stroke="#4a4a4a" stroke-width="1.1"/>
<line x1="368.60" y1="172.50" x2="373.10" y2="172.50" stroke="#4a4a4a" stroke-width="1.1"/>
<line x1="621.30" y1="172.50" x2="616.80" y2="172.50" stroke="#4a4a4a" stroke-width="1.1"/>
<line x1="368.60" y1="166.52" x2="370.80" y2="166.52" stroke="#4a4a4a" stroke-width="1.1"/>
<line x1="621.30" y1="166.52" x2="619.10" y2="166.52" stroke="#4a4a4a" stroke-width="1.1"/>
<line x1="368.60" y1="160.54" x2="370.80" y2="160.54" stroke="#4a4a4a" stroke-width="1.1"/>
<line x1="621.30" y1="160.54" x2="619.10" y2="160.54" stroke="#4a4a4a" stroke-width="1.1"/>
<line x1="368.60" y1="154.56" x2="370.80" y2="154.56" stroke="#4a4a4a" stroke-width="1.1"/>
<line x1="621.30" y1="154.56" x2="619.10" y2="154.56" stroke="#4a4a4a" stroke-width="1.1"/>
<line x1="368.60" y1="148.58" x2="370.80" y2="148.58" stroke="#4a4a4a" stroke-width="1.1"/>
<line x1="621.30" y1="148.58" x2="619.10" y2="148.58" stroke="#4a4a4a" stroke-width="1.1"/>
<line x1="368.60" y1="142.60" x2="373.10" y2="142.60" stroke="#4a4a4a" stroke-width="1.1"/>
<line x1="621.30" y1="142.60" x2="616.80" y2="142.60" stroke="#4a4a4a" stroke-width="1.1"/>
<line x1="368.60" y1="136.62" x2="370.80" y2="136.62" stroke="#4a4a4a" stroke-width="1.1"/>
<line x1="621.30" y1="136.62" x2="619.10" y2="136.62" stroke="#4a4a4a" stroke-width="1.1"/>
<line x1="368.60" y1="130.64" x2="370.80" y2="130.64" stroke="#4a4a4a" stroke-width="1.1"/>
<line x1="621.30" y1="130.64" x2="619.10" y2="130.64" stroke="#4a4a4a" stroke-width="1.1"/>
<line x1="368.60" y1="124.66" x2="370.80" y2="124.66" stroke="#4a4a4a" stroke-width="1.1"/>
<line x1="621.30" y1="124.66" x2="619.10" y2="124.66" stroke="#4a4a4a" stroke-width="1.1"/>
<line x1="368.60" y1="118.68" x2="370.80" y2="118.68" stroke="#4a4a4a" stroke-width="1.1"/>
<line x1="621.30" y1="118.68" x2="619.10" y2="118.68" stroke="#4a4a4a" stroke-width="1.1"/>
<line x1="368.60" y1="112.70" x2="373.10" y2="112.70" stroke="#4a4a4a" stroke-width="1.1"/>
<line x1="621.30" y1="112.70" x2="616.80" y2="112.70" stroke="#4a4a4a" stroke-width="1.1"/>
<line x1="368.60" y1="106.72" x2="370.80" y2="106.72" stroke="#4a4a4a" stroke-width="1.1"/>
<line x1="621.30" y1="106.72" x2="619.10" y2="106.72" stroke="#4a4a4a" stroke-width="1.1"/>
<line x1="368.60" y1="100.74" x2="370.80" y2="100.74" stroke="#4a4a4a" stroke-width="1.1"/>
<line x1="621.30" y1="100.74" x2="619.10" y2="100.74" stroke="#4a4a4a" stroke-width="1.1"/>
<line x1="368.60" y1="94.76" x2="370.80" y2="94.76" stroke="#4a4a4a" stroke-width="1.1"/>
<line x1="621.30" y1="94.76" x2="619.10" y2="94.76" stroke="#4a4a4a" stroke-width="1.1"/>
<line x1="368.60" y1="88.78" x2="370.80" y2="88.78" stroke="#4a4a4a" stroke-width="1.1"/>
<line x1="621.30" y1="88.78" x2="619.10" y2="88.78" stroke="#4a4a4a" stroke-width="1.1"/>
<line x1="368.60" y1="82.80" x2="373.10" y2="82.80" stroke="#4a4a4a" stroke-width="1.1"/>
<line x1="621.30" y1="82.80" x2="616.80" y2="82.80" stroke="#4a4a4a" stroke-width="1.1"/>
<line x1="368.60" y1="76.82" x2="370.80" y2="76.82" stroke="#4a4a4a" stroke-width="1.1"/>
<line x1="621.30" y1="76.82" x2="619.10" y2="76.82" stroke="#4a4a4a" stroke-width="1.1"/>
<line x1="368.60" y1="70.84" x2="370.80" y2="70.84" stroke="#4a4a4a" stroke-width="1.1"/>
<line x1="621.30" y1="70.84" x2="619.10" y2="70.84" stroke="#4a4a4a" stroke-width="1.1"/>
<line x1="368.60" y1="64.86" x2="370.80" y2="64.86" stroke="#4a4a4a" stroke-width="1.1"/>
<line x1="621.30" y1="64.86" x2="619.10" y2="64.86" stroke="#4a4a4a" stroke-width="1.1"/>
<line x1="368.60" y1="58.88" x2="370.80" y2="58.88" stroke="#4a4a4a" stroke-width="1.1"/>
<line x1="621.30" y1="58.88" x2="619.10" y2="58.88" stroke="#4a4a4a" stroke-width="1.1"/>
<line x1="368.60" y1="52.90" x2="373.10" y2="52.90" stroke="#4a4a4a" stroke-width="1.1"/>
<line x1="621.30" y1="52.90" x2="616.80" y2="52.90" stroke="#4a4a4a" stroke-width="1.1"/>
<line x1="368.60" y1="46.92" x2="370.80" y2="46.92" stroke="#4a4a4a" stroke-width="1.1"/>
<line x1="621.30" y1="46.92" x2="619.10" y2="46.92" stroke="#4a4a4a" stroke-width="1.1"/>
<line x1="368.60" y1="40.94" x2="370.80" y2="40.94" stroke="#4a4a4a" stroke-width="1.1"/>
<line x1="621.30" y1="40.94" x2="619.10" y2="40.94" stroke="#4a4a4a" stroke-width="1.1"/>
<line x1="368.60" y1="34.96" x2="370.80" y2="34.96" stroke="#4a4a4a" stroke-width="1.1"/>
<line x1="621.30" y1="34.96" x2="619.10" y2="34.96" stroke="#4a4a4a" stroke-width="1.1"/>
<line x1="368.60" y1="28.98" x2="370.80" y2="28.98" stroke="#4a4a4a" stroke-width="1.1"/>
<line x1="621.30" y1="28.98" x2="619.10" y2="28.98" stroke="#4a4a4a" stroke-width="1.1"/>
<rect x="368.6" y="23.1" width="252.69999999999993" height="209.20000000000002" fill="none" stroke="#4a4a4a" stroke-width="1.5"/>
<text x="364.5" y="236.6" font-size="12.6" text-anchor="end">0</text>
<text x="364.5" y="206.7" font-size="12.6" text-anchor="end">10</text>
<text x="364.5" y="176.8" font-size="12.6" text-anchor="end">20</text>
<text x="364.5" y="146.9" font-size="12.6" text-anchor="end">30</text>
<text x="364.5" y="117.0" font-size="12.6" text-anchor="end">40</text>
<text x="364.5" y="87.1" font-size="12.6" text-anchor="end">50</text>
<text x="364.5" y="57.2" font-size="12.6" text-anchor="end">60</text>
<text x="364.5" y="27.3" font-size="12.6" text-anchor="end">70</text>
<text x="372.0" y="246.0" font-size="13.4" text-anchor="middle">0.0</text>
<text x="432.6" y="246.0" font-size="13.4" text-anchor="middle">2.5</text>
<text x="494.4" y="246.0" font-size="13.4" text-anchor="middle">5.0</text>
<text x="556.2" y="246.0" font-size="13.4" text-anchor="middle">7.5</text>
<text x="618.0" y="246.0" font-size="13.4" text-anchor="middle">10.0</text>
<text x="528.5" y="263.4" font-size="13.2" text-anchor="middle">H (kOe)</text>
<text transform="translate(343.5,130.3) rotate(-90)" font-size="13.5" text-anchor="middle">M (emu mol<tspan dy="-4.6" font-size="8.8">-1</tspan><tspan dy="4.6">)</tspan></text>
<text x="374.0" y="11.0" font-size="15.2" text-anchor="start">b)</text>
<path d="M370.40,232.30 C371.52,230.07 374.92,222.37 377.10,218.90 C379.28,215.43 381.47,213.70 383.50,211.50 C385.53,209.30 387.28,207.63 389.30,205.70 C391.32,203.77 390.52,204.40 395.60,199.90 C400.68,195.40 407.52,188.47 419.80,178.70 C432.08,168.93 452.82,153.67 469.30,141.30 C485.78,128.93 502.17,116.55 518.70,104.50 C535.23,92.45 552.07,80.88 568.50,69.00 C584.93,57.12 609.17,39.17 617.30,33.20" fill="none" stroke="#151515" stroke-width="1.15" stroke-linejoin="round"/>
<path d="M370.40,232.30 C371.52,230.42 374.92,224.05 377.10,221.00 C379.28,217.95 381.47,216.10 383.50,214.00 C385.53,211.90 387.28,210.20 389.30,208.40 C391.32,206.60 390.52,207.05 395.60,203.20 C400.68,199.35 407.52,194.23 419.80,185.30 C432.08,176.37 452.82,161.22 469.30,149.60 C485.78,137.98 502.17,126.77 518.70,115.60 C535.23,104.43 552.07,93.57 568.50,82.60 C584.93,71.63 609.17,55.27 617.30,49.80" fill="none" stroke="#a8282c" stroke-width="1.15" stroke-linejoin="round"/>
<path d="M370.40,232.30 C371.52,230.67 374.92,225.22 377.10,222.50 C379.28,219.78 381.47,217.88 383.50,216.00 C385.53,214.12 387.28,212.78 389.30,211.20 C391.32,209.62 390.52,210.03 395.60,206.50 C400.68,202.97 407.52,198.28 419.80,190.00 C432.08,181.72 452.82,167.53 469.30,156.80 C485.78,146.07 502.17,136.12 518.70,125.60 C535.23,115.08 552.07,104.07 568.50,93.70 C584.93,83.33 609.17,68.45 617.30,63.40" fill="none" stroke="#2e2e9c" stroke-width="1.15" stroke-linejoin="round"/>
<path d="M370.40,232.30 C371.52,230.88 374.92,226.10 377.10,223.80 C379.28,221.50 381.47,220.07 383.50,218.50 C385.53,216.93 387.28,215.67 389.30,214.40 C391.32,213.13 390.52,214.30 395.60,210.90 C400.68,207.50 407.52,201.87 419.80,194.00 C432.08,186.13 452.82,173.75 469.30,163.70 C485.78,153.65 502.17,143.47 518.70,133.70 C535.23,123.93 552.07,114.62 568.50,105.10 C584.93,95.58 609.17,81.35 617.30,76.60" fill="none" stroke="#222" stroke-width="1.15" stroke-linejoin="round"/>
<path d="M370.40,232.30 C371.52,231.08 374.92,226.98 377.10,225.00 C379.28,223.02 381.47,221.70 383.50,220.40 C385.53,219.10 387.28,218.22 389.30,217.20 C391.32,216.18 390.52,217.33 395.60,214.30 C400.68,211.27 407.52,206.38 419.80,199.00 C432.08,191.62 452.82,179.47 469.30,170.00 C485.78,160.53 502.17,151.27 518.70,142.20 C535.23,133.13 552.07,124.47 568.50,115.60 C584.93,106.73 609.17,93.43 617.30,89.00" fill="none" stroke="#3434a4" stroke-width="1.15" stroke-linejoin="round"/>
<circle cx="377.10" cy="218.90" r="1.3" fill="#111"/>
<circle cx="383.50" cy="211.50" r="1.3" fill="#111"/>
<circle cx="389.30" cy="205.70" r="1.3" fill="#111"/>
<circle cx="395.60" cy="199.90" r="1.3" fill="#111"/>
<circle cx="419.80" cy="178.70" r="1.3" fill="#111"/>
<circle cx="469.30" cy="141.30" r="1.3" fill="#111"/>
<circle cx="518.70" cy="104.50" r="1.3" fill="#111"/>
<circle cx="568.50" cy="69.00" r="1.3" fill="#111"/>
<circle cx="617.30" cy="33.20" r="1.3" fill="#111"/>
<path d="M375.80,222.00 L378.40,222.00 L377.10,219.70Z" fill="#a8282c"/>
<path d="M382.20,215.00 L384.80,215.00 L383.50,212.70Z" fill="#a8282c"/>
<path d="M388.00,209.40 L390.60,209.40 L389.30,207.10Z" fill="#a8282c"/>
<path d="M394.30,204.20 L396.90,204.20 L395.60,201.90Z" fill="#a8282c"/>
<path d="M418.50,186.30 L421.10,186.30 L419.80,184.00Z" fill="#a8282c"/>
<path d="M468.00,150.60 L470.60,150.60 L469.30,148.30Z" fill="#a8282c"/>
<path d="M517.40,116.60 L520.00,116.60 L518.70,114.30Z" fill="#a8282c"/>
<path d="M567.20,83.60 L569.80,83.60 L568.50,81.30Z" fill="#a8282c"/>
<path d="M616.00,50.80 L618.60,50.80 L617.30,48.50Z" fill="#a8282c"/>
<path d="M375.70,221.50 L378.50,221.50 L377.10,223.80Z" fill="#2e2e9c"/>
<path d="M382.10,215.00 L384.90,215.00 L383.50,217.30Z" fill="#2e2e9c"/>
<path d="M387.90,210.20 L390.70,210.20 L389.30,212.50Z" fill="#2e2e9c"/>
<path d="M394.20,205.50 L397.00,205.50 L395.60,207.80Z" fill="#2e2e9c"/>
<path d="M418.40,189.00 L421.20,189.00 L419.80,191.30Z" fill="#2e2e9c"/>
<path d="M467.90,155.80 L470.70,155.80 L469.30,158.10Z" fill="#2e2e9c"/>
<path d="M517.30,124.60 L520.10,124.60 L518.70,126.90Z" fill="#2e2e9c"/>
<path d="M567.10,92.70 L569.90,92.70 L568.50,95.00Z" fill="#2e2e9c"/>
<path d="M615.90,62.40 L618.70,62.40 L617.30,64.70Z" fill="#2e2e9c"/>
<circle cx="377.10" cy="223.80" r="1.2" fill="#2a8a2a"/>
<circle cx="383.50" cy="218.50" r="1.2" fill="#2a8a2a"/>
<circle cx="389.30" cy="214.40" r="1.2" fill="#2a8a2a"/>
<circle cx="395.60" cy="210.90" r="1.2" fill="#2a8a2a"/>
<circle cx="419.80" cy="194.00" r="1.2" fill="#2a8a2a"/>
<circle cx="469.30" cy="163.70" r="1.2" fill="#2a8a2a"/>
<circle cx="518.70" cy="133.70" r="1.2" fill="#2a8a2a"/>
<circle cx="568.50" cy="105.10" r="1.2" fill="#2a8a2a"/>
<circle cx="617.30" cy="76.60" r="1.2" fill="#2a8a2a"/>
<circle cx="377.10" cy="225.00" r="1.2" fill="#fff" stroke="#3434a4" stroke-width="0.8"/>
<circle cx="383.50" cy="220.40" r="1.2" fill="#fff" stroke="#3434a4" stroke-width="0.8"/>
<circle cx="389.30" cy="217.20" r="1.2" fill="#fff" stroke="#3434a4" stroke-width="0.8"/>
<circle cx="395.60" cy="214.30" r="1.2" fill="#fff" stroke="#3434a4" stroke-width="0.8"/>
<circle cx="419.80" cy="199.00" r="1.2" fill="#fff" stroke="#3434a4" stroke-width="0.8"/>
<circle cx="469.30" cy="170.00" r="1.2" fill="#fff" stroke="#3434a4" stroke-width="0.8"/>
<circle cx="518.70" cy="142.20" r="1.2" fill="#fff" stroke="#3434a4" stroke-width="0.8"/>
<circle cx="568.50" cy="115.60" r="1.2" fill="#fff" stroke="#3434a4" stroke-width="0.8"/>
<circle cx="617.30" cy="89.00" r="1.2" fill="#fff" stroke="#3434a4" stroke-width="0.8"/>
<path d="M370.40,232.30 C370.80,231.58 371.90,229.47 372.80,228.00 C373.70,226.53 374.68,224.70 375.80,223.50 C376.92,222.30 378.22,221.48 379.50,220.80 C380.78,220.12 381.62,219.82 383.50,219.40 C385.38,218.98 387.05,218.65 390.80,218.30 C394.55,217.95 397.80,217.57 406.00,217.30 C414.20,217.03 424.33,216.85 440.00,216.70 C455.67,216.55 480.00,216.47 500.00,216.40 C520.00,216.33 540.40,216.33 560.00,216.30 C579.60,216.27 608.00,216.22 617.60,216.20" fill="none" stroke="#1a1a1a" stroke-width="1.3" stroke-linejoin="round"/>
<text x="525.7" y="208.4" font-size="12" text-anchor="middle">(1)</text>
<text x="612.6" y="135.8" font-size="11.8" text-anchor="end">T=150 K</text>
<text x="612.6" y="148.0" font-size="11.8" text-anchor="end">175 K</text>
<text x="612.6" y="160.2" font-size="11.8" text-anchor="end">200 K</text>
<text x="612.6" y="172.4" font-size="11.8" text-anchor="end">225 K</text>
<text x="612.6" y="184.6" font-size="11.8" text-anchor="end">250 K</text>
<rect x="368.6" y="23.1" width="104.29999999999995" height="92.69999999999999" fill="#fff" stroke="none"/>
<line x1="377.25" y1="115.80" x2="377.25" y2="112.30" stroke="#4a4a4a" stroke-width="1.1"/>
<line x1="386.00" y1="115.80" x2="386.00" y2="113.80" stroke="#4a4a4a" stroke-width="1.1"/>
<line x1="394.75" y1="115.80" x2="394.75" y2="113.80" stroke="#4a4a4a" stroke-width="1.1"/>
<line x1="403.50" y1="115.80" x2="403.50" y2="113.80" stroke="#4a4a4a" stroke-width="1.1"/>
<line x1="412.25" y1="115.80" x2="412.25" y2="113.80" stroke="#4a4a4a" stroke-width="1.1"/>
<line x1="421.00" y1="115.80" x2="421.00" y2="112.30" stroke="#4a4a4a" stroke-width="1.1"/>
<line x1="429.75" y1="115.80" x2="429.75" y2="113.80" stroke="#4a4a4a" stroke-width="1.1"/>
<line x1="438.50" y1="115.80" x2="438.50" y2="113.80" stroke="#4a4a4a" stroke-width="1.1"/>
<line x1="447.25" y1="115.80" x2="447.25" y2="113.80" stroke="#4a4a4a" stroke-width="1.1"/>
<line x1="456.00" y1="115.80" x2="456.00" y2="113.80" stroke="#4a4a4a" stroke-width="1.1"/>
<line x1="464.75" y1="115.80" x2="464.75" y2="112.30" stroke="#4a4a4a" stroke-width="1.1"/>
<line x1="472.90" y1="113.38" x2="471.10" y2="113.38" stroke="#4a4a4a" stroke-width="1.1"/>
<line x1="472.90" y1="109.40" x2="469.40" y2="109.40" stroke="#4a4a4a" stroke-width="1.1"/>
<line x1="472.90" y1="105.42" x2="471.10" y2="105.42" stroke="#4a4a4a" stroke-width="1.1"/>
<line x1="472.90" y1="101.44" x2="471.10" y2="101.44" stroke="#4a4a4a" stroke-width="1.1"/>
<line x1="472.90" y1="97.46" x2="471.10" y2="97.46" stroke="#4a4a4a" stroke-width="1.1"/>
<line x1="472.90" y1="93.48" x2="471.10" y2="93.48" stroke="#4a4a4a" stroke-width="1.1"/>
<line x1="472.90" y1="89.50" x2="469.40" y2="89.50" stroke="#4a4a4a" stroke-width="1.1"/>
<line x1="472.90" y1="85.52" x2="471.10" y2="85.52" stroke="#4a4a4a" stroke-width="1.1"/>
<line x1="472.90" y1="81.54" x2="471.10" y2="81.54" stroke="#4a4a4a" stroke-width="1.1"/>
<line x1="472.90" y1="77.56" x2="471.10" y2="77.56" stroke="#4a4a4a" stroke-width="1.1"/>
<line x1="472.90" y1="73.58" x2="471.10" y2="73.58" stroke="#4a4a4a" stroke-width="1.1"/>
<line x1="472.90" y1="69.60" x2="469.40" y2="69.60" stroke="#4a4a4a" stroke-width="1.1"/>
<line x1="472.90" y1="65.62" x2="471.10" y2="65.62" stroke="#4a4a4a" stroke-width="1.1"/>
<line x1="472.90" y1="61.64" x2="471.10" y2="61.64" stroke="#4a4a4a" stroke-width="1.1"/>
<line x1="472.90" y1="57.66" x2="471.10" y2="57.66" stroke="#4a4a4a" stroke-width="1.1"/>
<line x1="472.90" y1="53.68" x2="471.10" y2="53.68" stroke="#4a4a4a" stroke-width="1.1"/>
<line x1="472.90" y1="49.70" x2="469.40" y2="49.70" stroke="#4a4a4a" stroke-width="1.1"/>
<line x1="472.90" y1="45.72" x2="471.10" y2="45.72" stroke="#4a4a4a" stroke-width="1.1"/>
<line x1="472.90" y1="41.74" x2="471.10" y2="41.74" stroke="#4a4a4a" stroke-width="1.1"/>
<line x1="472.90" y1="37.76" x2="471.10" y2="37.76" stroke="#4a4a4a" stroke-width="1.1"/>
<line x1="472.90" y1="33.78" x2="471.10" y2="33.78" stroke="#4a4a4a" stroke-width="1.1"/>
<line x1="472.90" y1="29.80" x2="469.40" y2="29.80" stroke="#4a4a4a" stroke-width="1.1"/>
<line x1="472.90" y1="25.82" x2="471.10" y2="25.82" stroke="#4a4a4a" stroke-width="1.1"/>
<line x1="368.60" y1="112.70" x2="373.10" y2="112.70" stroke="#4a4a4a" stroke-width="1.1"/>
<line x1="368.60" y1="106.72" x2="370.80" y2="106.72" stroke="#4a4a4a" stroke-width="1.1"/>
<line x1="368.60" y1="100.74" x2="370.80" y2="100.74" stroke="#4a4a4a" stroke-width="1.1"/>
<line x1="368.60" y1="94.76" x2="370.80" y2="94.76" stroke="#4a4a4a" stroke-width="1.1"/>
<line x1="368.60" y1="88.78" x2="370.80" y2="88.78" stroke="#4a4a4a" stroke-width="1.1"/>
<line x1="368.60" y1="82.80" x2="373.10" y2="82.80" stroke="#4a4a4a" stroke-width="1.1"/>
<line x1="368.60" y1="76.82" x2="370.80" y2="76.82" stroke="#4a4a4a" stroke-width="1.1"/>
<line x1="368.60" y1="70.84" x2="370.80" y2="70.84" stroke="#4a4a4a" stroke-width="1.1"/>
<line x1="368.60" y1="64.86" x2="370.80" y2="64.86" stroke="#4a4a4a" stroke-width="1.1"/>
<line x1="368.60" y1="58.88" x2="370.80" y2="58.88" stroke="#4a4a4a" stroke-width="1.1"/>
<line x1="368.60" y1="52.90" x2="373.10" y2="52.90" stroke="#4a4a4a" stroke-width="1.1"/>
<line x1="368.60" y1="46.92" x2="370.80" y2="46.92" stroke="#4a4a4a" stroke-width="1.1"/>
<line x1="368.60" y1="40.94" x2="370.80" y2="40.94" stroke="#4a4a4a" stroke-width="1.1"/>
<line x1="368.60" y1="34.96" x2="370.80" y2="34.96" stroke="#4a4a4a" stroke-width="1.1"/>
<line x1="368.60" y1="28.98" x2="370.80" y2="28.98" stroke="#4a4a4a" stroke-width="1.1"/>
<g clip-path="url(#clipi)">
<path d="M368.60,103.50 C372.17,100.67 384.43,90.72 390.00,86.50 C395.57,82.28 398.05,80.90 402.00,78.20 C405.95,75.50 409.70,73.42 413.70,70.30 C417.70,67.18 421.62,62.88 426.00,59.50 C430.38,56.12 432.18,55.28 440.00,50.00 C447.82,44.72 467.42,31.50 472.90,27.80" fill="none" stroke="#c8202c" stroke-width="1.15" stroke-linejoin="round"/>
<path d="M368.60,112.00 C372.17,109.77 384.43,102.12 390.00,98.60 C395.57,95.08 398.00,93.62 402.00,90.90 C406.00,88.18 410.00,85.32 414.00,82.30 C418.00,79.28 421.67,76.25 426.00,72.80 C430.33,69.35 435.00,65.52 440.00,61.60 C445.00,57.68 450.52,53.53 456.00,49.30 C461.48,45.07 470.08,38.38 472.90,36.20" fill="none" stroke="#c8202c" stroke-width="1.15" stroke-linejoin="round"/>
<path d="M368.60,89.40 C372.17,88.13 383.10,84.28 390.00,81.80 C396.90,79.32 404.00,76.82 410.00,74.50 C416.00,72.18 419.33,70.63 426.00,67.90 C432.67,65.17 442.18,61.12 450.00,58.10 C457.82,55.08 469.08,51.18 472.90,49.80" fill="none" stroke="#2a2a9a" stroke-width="1.1" stroke-linejoin="round"/>
<path d="M368.60,97.50 C370.50,96.75 375.60,94.70 380.00,93.00 C384.40,91.30 390.83,89.37 395.00,87.30 C399.17,85.23 402.00,82.62 405.00,80.60 C408.00,78.58 410.83,76.70 413.00,75.20 C415.17,73.70 416.50,72.88 418.00,71.60 C419.50,70.32 420.67,68.57 422.00,67.50 C423.33,66.43 424.00,66.28 426.00,65.20 C428.00,64.12 431.67,62.18 434.00,61.00 C436.33,59.82 437.33,59.38 440.00,58.10 C442.67,56.82 444.52,56.10 450.00,53.30 C455.48,50.50 469.08,43.30 472.90,41.30" fill="none" stroke="#111" stroke-width="1.1" stroke-linejoin="round"/>
</g>
<rect x="368.6" y="23.1" width="104.29999999999995" height="92.69999999999999" fill="none" stroke="#4a4a4a" stroke-width="1.5"/>
<text x="378.1" y="127.5" font-size="9.6" text-anchor="middle">-5</text>
<text x="421.0" y="127.5" font-size="9.6" text-anchor="middle">0</text>
<text x="464.0" y="127.5" font-size="9.6" text-anchor="middle">5</text>
<text x="475.5" y="34.0" font-size="10" text-anchor="start">60</text>
<text x="475.5" y="53.9" font-size="10" text-anchor="start">30</text>
<text x="475.5" y="73.8" font-size="10" text-anchor="start">0</text>
<text x="475.5" y="93.7" font-size="10" text-anchor="start">-30</text>
<text x="475.5" y="113.6" font-size="10" text-anchor="start">-60</text>
<text x="420.4" y="139.9" font-size="10.4" text-anchor="middle">H (kOe)</text>
<text transform="translate(502.9,67.3) rotate(-90)" font-size="11.2" text-anchor="middle">M (emu mol<tspan dy="-4" font-size="7.6">-1</tspan><tspan dy="4">)</tspan></text>
<text x="407.0" y="44.6" font-size="10.0" text-anchor="start">150 K</text>
<text x="442.5" y="78.4" font-size="10.6" text-anchor="start">250 K</text>
<text x="414" y="100.5" font-size="10.6" text-anchor="start">5 K</text>
<line x1="421.30" y1="47.20" x2="436.00" y2="57.50" stroke="#111" stroke-width="1.0"/>
<path d="M436.00,57.50 L431.41,56.73 L433.71,53.45Z" fill="#111"/>
<line x1="456.30" y1="69.50" x2="456.30" y2="58.40" stroke="#111" stroke-width="1.0"/>
<path d="M456.30,58.40 L458.30,62.60 L454.30,62.60Z" fill="#111"/>
<line x1="420.30" y1="89.30" x2="420.30" y2="79.40" stroke="#111" stroke-width="1.0"/>
<path d="M420.30,79.40 L422.30,83.60 L418.30,83.60Z" fill="#111"/>
</svg>
</body></html>
